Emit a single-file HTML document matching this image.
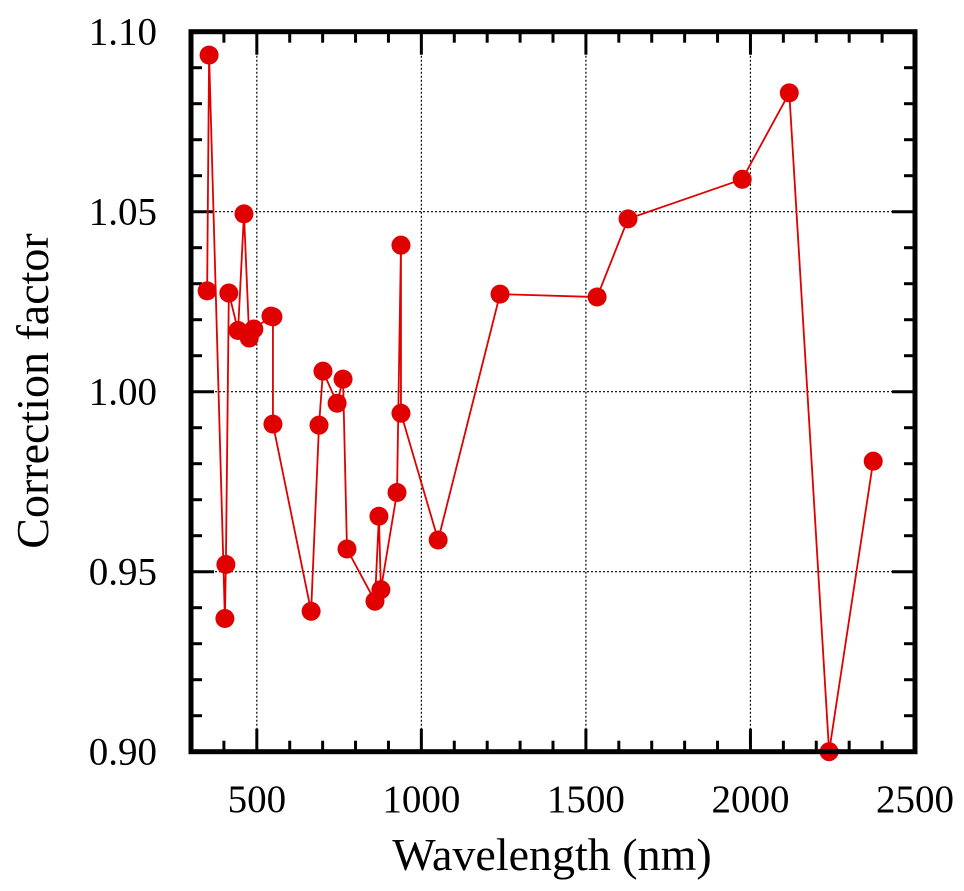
<!DOCTYPE html>
<html><head><meta charset="utf-8"><style>
body{margin:0;background:#fff;}
svg{display:block;font-family:"Liberation Serif",serif;}
</style></head><body>
<svg id="chart" width="964" height="891" viewBox="0 0 964 891">
<g id="grid"></g>
<g id="ticks"></g>
<g id="series"></g>
<rect x="191" y="31.7" width="724" height="720" fill="none" stroke="#000" stroke-width="5"/>
<g id="labels"></g>
<text x="552" y="870" font-size="46" text-anchor="middle">Wavelength (nm)</text>
<text transform="translate(48,391) rotate(-90)" font-size="46" text-anchor="middle">Correction factor</text>
</svg>
<script>
const wavelengths=[349,355,403,406,415,443,461,477,491,543,549,549,665,689,701,744,762,774,859,871,877,926,938,938,1051,1239,1534,1628,1975,2118,2239,2373];
const factors=[1.028,1.0935,0.937,0.952,1.0274,1.017,1.0494,1.0149,1.0174,1.021,1.0208,0.991,0.939,0.9907,1.0057,0.9968,1.0035,0.9563,0.9418,0.9654,0.945,0.972,1.0407,0.994,0.9588,1.0271,1.0263,1.048,1.059,1.083,0.90,0.9807];
const xTicks=[500,1000,1500,2000,2500];
const yTicks=[0.90,0.95,1.00,1.05,1.10];
const xLabels=["500","1000","1500","2000","2500"];
const yLabels=["0.90","0.95","1.00","1.05","1.10"];
const X0=191,X1=915,Y0=751.7,Y1=31.7,xmin=300,xmax=2500,ymin=0.90,ymax=1.10;
const xs=v=>X0+(v-xmin)/(xmax-xmin)*(X1-X0);
const ys=v=>Y0-(v-ymin)/(ymax-ymin)*(Y0-Y1);
const NS="http://www.w3.org/2000/svg";
function mk(tag,attrs,parent){const e=document.createElementNS(NS,tag);for(const k in attrs)e.setAttribute(k,attrs[k]);parent.appendChild(e);return e;}
const grid=document.getElementById('grid'),ticks=document.getElementById('ticks'),labels=document.getElementById('labels'),series=document.getElementById('series');
xTicks.forEach((t,i)=>{const x=xs(t);
 if(t<xmax){const g=mk('line',{x1:x,x2:x,y1:Y1,y2:Y0,stroke:'#000','stroke-width':1.2,'stroke-dasharray':'2,2'},grid);
 
 }
 const l=mk('text',{x:x,y:812,'font-size':39,'text-anchor':'middle'},labels);l.textContent=xLabels[i];
 
 
});
yTicks.forEach((t,i)=>{const y=ys(t);
 if(t>ymin&&t<ymax){const g=mk('line',{x1:X0,x2:X1,y1:y,y2:y,stroke:'#000','stroke-width':1.2,'stroke-dasharray':'2,2'},grid);
 
 }
 const l=mk('text',{x:157,y:y+13,'font-size':39,'text-anchor':'end'},labels);l.textContent=yLabels[i];
 
 
});
for(let v=400;v<xmax;v+=100){const x=xs(v);const L=(v%500===0)?23:11;
 mk('line',{x1:x,x2:x,y1:Y0,y2:Y0-L,stroke:'#000','stroke-width':3},ticks);
 mk('line',{x1:x,x2:x,y1:Y1,y2:Y1+L,stroke:'#000','stroke-width':3},ticks);}
for(let k=1;k<20;k++){const v=ymin+k*0.01;const y=ys(v);const L=(k%5===0)?23:11;
 mk('line',{x1:X0,x2:X0+L,y1:y,y2:y,stroke:'#000','stroke-width':3},ticks);
 mk('line',{x1:X1,x2:X1-L,y1:y,y2:y,stroke:'#000','stroke-width':3},ticks);}
const pts=wavelengths.map((w,i)=>xs(w)+','+ys(factors[i])).join(' ');
const pl=mk('polyline',{points:pts,fill:'none',stroke:'#e00000','stroke-width':1.8},series);


wavelengths.forEach((w,i)=>{const c=mk('circle',{cx:xs(w),cy:ys(factors[i]),r:9.5,fill:'#e00000'},series);
 
 });
</script>
</body></html>
